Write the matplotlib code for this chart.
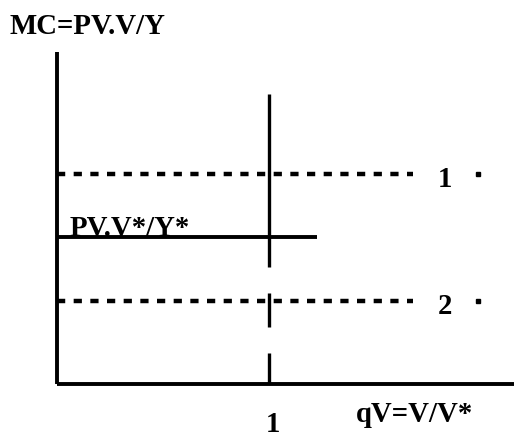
import matplotlib.pyplot as plt

# рівні граничних витрат (у частках від PV.V*/Y*)
mc_star = 1.0
mc_levels = [1.43, 0.565]
mc_level_labels = ["1", "2"]
q_star = 1.0

# відрізки вертикальної лінії q = 1 (з розривами)
q_segments = [(0.796, 1.97), (0.388, 0.619), (0.0, 0.211)]

x_axis_end = 2.156
y_axis_end = 2.26
mc_star_end = 1.226
dotted_end = 1.68
dot_x = 1.986

font = dict(family=["Liberation Serif", "DejaVu Serif"], fontweight="bold", fontsize=20.7)

fig = plt.figure(figsize=(5.14, 4.37), dpi=100)
ax = fig.add_axes([0, 0, 1, 1])
ax.set_xlim(-0.269, 2.156)
ax.set_ylim(-0.3605, 2.612)
ax.axis("off")

# осі
ax.plot([0, 0], [0, y_axis_end], color="black", lw=2.8, solid_capstyle="butt")
ax.plot([0, x_axis_end], [0, 0], color="black", lw=2.8, solid_capstyle="butt")

# вертикальна лінія q = 1
for y0, y1 in q_segments:
    ax.plot([q_star, q_star], [y0, y1], color="black", lw=2.4, solid_capstyle="butt")

# горизонтальна лінія PV.V*/Y*
ax.plot([0, mc_star_end], [mc_star, mc_star], color="black", lw=2.8, solid_capstyle="butt")
ax.text(0.06, mc_star + 0.008, "PV.V*/Y*", ha="left", va="baseline", **font)

# пунктирні рівні 1 і 2
for lvl, lab in zip(mc_levels, mc_level_labels):
    ax.plot([0, dotted_end], [lvl, lvl], color="black", lw=3.2,
            linestyle=(0, (1.85, 1.9)), dash_capstyle="butt")
    ax.plot([dot_x], [lvl], marker="s", color="black", markersize=3.4)
    ax.text(1.83, lvl - 0.04, lab, ha="center", va="center", **font)

# підписи осей
ax.text(-0.225, 2.435, "MC=PV.V/Y", ha="left", va="center", **font)
ax.text(1.41, -0.21, "qV=V/V*", ha="left", va="center", **font)
ax.text(q_star + 0.02, -0.275, "1", ha="center", va="center", **font)

fig.savefig("out.png", dpi=100)
